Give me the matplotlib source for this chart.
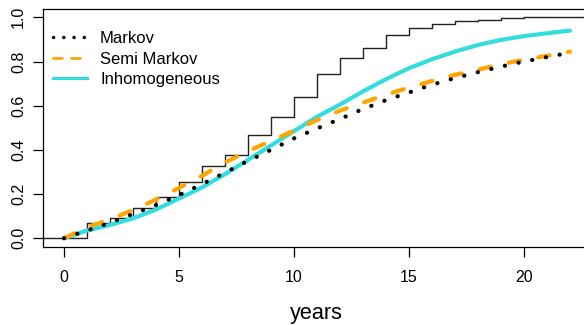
import matplotlib
matplotlib.use("Agg")
import matplotlib.pyplot as plt
import numpy as np
from matplotlib.lines import Line2D

plt.rcParams['font.family'] = ['Liberation Sans', 'DejaVu Sans']

# ---- data ----
years = [0, 1, 2, 3, 4, 5, 6, 7, 8, 9, 10, 11, 12, 13, 14, 15, 16, 17, 18, 19, 20, 21, 22]
markov = [0, 0.035, 0.07, 0.11, 0.15, 0.195, 0.245, 0.297, 0.35, 0.40, 0.452, 0.497,
          0.54, 0.585, 0.625, 0.66, 0.695, 0.725, 0.752, 0.777, 0.80, 0.82, 0.84]
semi_markov = [0, 0.05, 0.085, 0.128, 0.175, 0.228, 0.283, 0.343, 0.394, 0.441, 0.487, 0.535,
               0.578, 0.614, 0.65, 0.682, 0.712, 0.74, 0.763, 0.788, 0.808, 0.826, 0.845]
inhomogeneous = [0, 0.035, 0.06, 0.09, 0.13, 0.18, 0.23, 0.29, 0.355, 0.42, 0.485, 0.55,
                 0.605, 0.665, 0.72, 0.77, 0.81, 0.845, 0.875, 0.898, 0.915, 0.928, 0.94]

step_times = [-1, 1, 2, 3, 4, 5, 6, 7, 8, 9, 10, 11, 12, 13, 14, 15, 16, 17, 18, 19, 20, 24]
step_levels = [0, 0.07, 0.09, 0.138, 0.187, 0.253, 0.327, 0.378, 0.467, 0.55, 0.64, 0.745,
               0.817, 0.86, 0.922, 0.95, 0.97, 0.985, 0.99, 0.995, 1.0, 1.0]

xticks = [0, 5, 10, 15, 20]
yticks = [0.0, 0.2, 0.4, 0.6, 0.8, 1.0]
labels = ["Markov", "Semi Markov", "Inhomogeneous"]

# ---- figure ----
W, H = 584, 325
fig = plt.figure(figsize=(W / 100, H / 100), dpi=100)
left_px, right_px, top_px, bottom_px = 43, 590, 8.5, 247.1
ax = fig.add_axes([left_px / W, 1 - bottom_px / H, (right_px - left_px) / W, (bottom_px - top_px) / H])
ax.set_xlim(-0.913, 22.87)
ax.set_ylim(-0.04, 1.04)

cyan = "#33DDDD"
orange = "#FFA500"

ax.step(step_times, step_levels, where='post', color='#222222', lw=1.0, zorder=2)
ax.plot(years, inhomogeneous, color=cyan, lw=3, solid_capstyle='round', zorder=3)
ax.plot(years, semi_markov, color=orange, lw=3, linestyle=(0, (2.8, 4.4)),
        dash_capstyle='round', zorder=4)
ax.plot(years, markov, color='black', lw=3, linestyle=(0, (0.05, 3.3)),
        dash_capstyle='round', zorder=5)

for s in ax.spines.values():
    s.set_linewidth(0.9)

ax.set_xticks(xticks)
ax.set_xticklabels([str(v) for v in xticks])
ax.set_yticks(yticks)
ax.set_yticklabels([f"{v:.1f}" for v in yticks])
ax.tick_params(axis='both', length=7.2, width=0.9, labelsize=11.5)
ax.tick_params(axis='x', pad=9)
ax.tick_params(axis='y', pad=5)
for lab in ax.get_yticklabels():
    lab.set_rotation(90)
    lab.set_va('center')

fig.text(316.5 / W, 1 - 319.5 / H, "years", ha='center', va='baseline', fontsize=15.6)

handles = [
    Line2D([], [], color='black', lw=2.5, linestyle=(0, (0.05, 2.9)), dash_capstyle='round'),
    Line2D([], [], color=orange, lw=2, linestyle=(0, (3.2, 3.3)), dash_capstyle='round'),
    Line2D([], [], color=cyan, lw=2.2),
]
leg = ax.legend(handles, labels, loc='upper left', frameon=False, fontsize=12,
                handlelength=2.04, handletextpad=0.78, labelspacing=0.33,
                bbox_to_anchor=(53 / W, 1 - 31 / H), bbox_transform=fig.transFigure,
                borderaxespad=0, borderpad=0)

fig.savefig("out.png", dpi=100)
